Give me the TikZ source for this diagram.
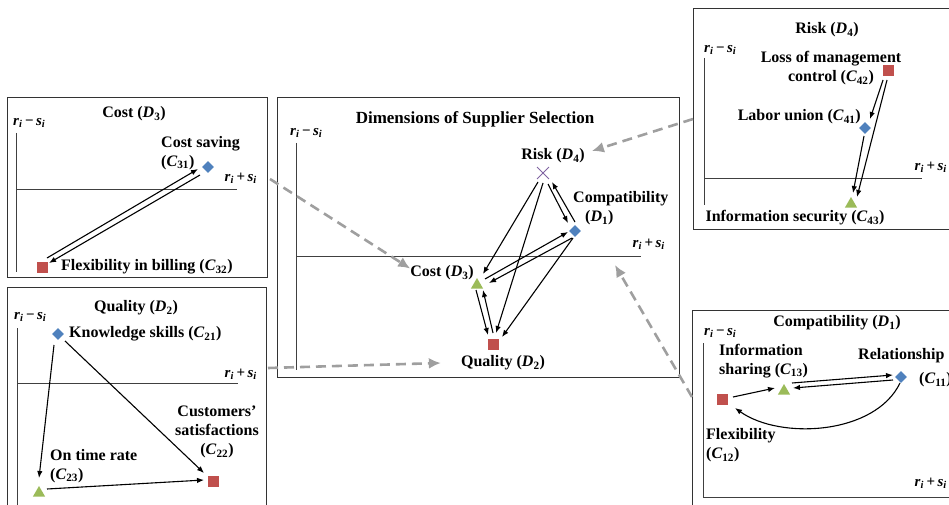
\documentclass[tikz,border=0pt]{standalone}
\usepackage{fontspec}
\setmainfont{Liberation Serif}
\usetikzlibrary{shapes.geometric}
\usetikzlibrary{shapes.misc}
\usetikzlibrary{arrows.meta}
\usetikzlibrary{positioning}
\definecolor{mkred}{HTML}{C0504D}
\definecolor{mkblue}{HTML}{4F81BD}
\definecolor{mkgreen}{HTML}{9BBB59}
\definecolor{mkpurple}{HTML}{8064A2}
\newcommand{\crit}[1]{(\textit{C}\textsubscript{#1})}
\newcommand{\dimn}[1]{(\textit{D}\textsubscript{#1})}
\newcommand{\rminus}{\textit{r}\textsubscript{\textit{i}}\,−\,\textit{s}\textsubscript{\textit{i}}}
\newcommand{\rplus}{\textit{r}\textsubscript{\textit{i}}\,+\,\textit{s}\textsubscript{\textit{i}}}
\tikzset{
    panel/.style = {draw=black!80, line width=1pt, inner sep=0, anchor=north west},
    axis/.style = {-, line width=0.9pt, black!75},
    lbl/.style = {inner sep=1pt, font=\bfseries\fontsize{16}{19}\selectfont, align=center},
    ttl/.style = {inner sep=1pt, font=\bfseries\fontsize{17}{19}\selectfont},
    axlbl/.style = {inner sep=1pt, font=\bfseries\fontsize{15}{17}\selectfont},
    sqr/.style = {rectangle, fill=mkred, minimum size=11pt, inner sep=0},
    dia/.style = {diamond, fill=mkblue, minimum size=12pt, inner sep=0},
    tri/.style = {regular polygon, regular polygon sides=3, fill=mkgreen, minimum size=14pt, inner sep=0},
    crs/.style = {cross out, draw=mkpurple, minimum size=11pt, inner sep=0, line width=0.9pt},
    arr/.style = {-{Latex[length=7pt,width=5.5pt]}, line width=1.1pt, black}, % relation
    link/.style = {-{Latex[length=12pt,width=11pt]}, line width=2.6pt, gray!75, dash pattern=on 10pt off 6pt}, % zoom
}

\begin{document}
\begin{tikzpicture}[x=1pt,y=-1pt]
\clip (0,0) rectangle (949,505);
%
% panels
\node[panel, minimum width=260, minimum height=180] at (7,97) (pcost) {};
\node[panel, minimum width=259, minimum height=230] at (7,287) (pqual) {};
\node[panel, minimum width=402, minimum height=280] at (277,97) (pdim) {};
\node[panel, minimum width=265, minimum height=221] at (693,8) (prisk) {};
\node[panel, minimum width=266, minimum height=210] at (692,310) (pcomp) {};
%
% axes
\draw[axis] (16,133) -- (16,272);
\draw[axis] (16,189) -- (237,189);
\draw[axis] (17,328) -- (17,510);
\draw[axis] (17,383) -- (238,383);
\draw[axis] (296,143) -- (296,370);
\draw[axis] (296,256) -- (641,256);
\draw[axis] (704,58) -- (704,205);
\draw[axis] (704,178) -- (922,178);
\draw[axis] (703,343) -- (703,497) -- (960,497);
%
\node[axlbl, anchor=west] at (12,123) (ycost) {\rminus};
\node[axlbl, anchor=east] at (258,178) (xcost) {\rplus};
\node[axlbl, anchor=west] at (13,317) (yqual) {\rminus};
\node[axlbl, anchor=east] at (258,374) (xqual) {\rplus};
\node[axlbl, anchor=west] at (289,133) (ydim) {\rminus};
\node[axlbl, anchor=east] at (666,244) (xdim) {\rplus};
\node[axlbl, anchor=west] at (703,50) (yrisk) {\rminus};
\node[axlbl, anchor=east] at (948,167) (xrisk) {\rplus};
\node[axlbl, anchor=west] at (703,333) (ycomp) {\rminus};
\node[axlbl, anchor=east] at (948,483) (xcomp) {\rplus};
%
% titles
\node[lbl] at (134,114) (tcost) {Cost \dimn{3}};
\node[lbl] at (136,308) (tqual) {Quality \dimn{2}};
\node[ttl] at (475,119) (tdim) {Dimensions of Supplier Selection};
\node[lbl] at (827,30) (trisk) {Risk \dimn{4}};
\node[lbl] at (837,323) (tcomp) {Compatibility \dimn{1}};
%
% cost
\node[dia] at (208,167) (c31) {};
\node[sqr] at (42,267) (c32) {};
\node[lbl, anchor=west, align=left] at (160,153) (lc31) {Cost saving\\\crit{31}};
\node[lbl, anchor=west] at (60,267) (lc32) {Flexibility in billing \crit{32}};
\draw[arr] ([shift={(5,-9)}]c32.center) -- ([shift={(-10,2)}]c31.center);
\draw[arr] ([shift={(-8,8)}]c31.center) -- ([shift={(7,-4)}]c32.center);
%
% quality
\node[dia] at (58,334) (c21) {};
\node[sqr] at (213,481) (c22) {};
\node[tri] at (39,493) (c23) {};
\node[lbl, anchor=west] at (68,334) (lc21) {Knowledge skills \crit{21}};
\node[lbl] at (217,432) (lc22) {Customers’\\satisfactions\\\crit{22}};
\node[lbl, anchor=west, align=left] at (49,466) (lc23) {On time rate\\\crit{23}};
\draw[arr] ([shift={(-4,11)}]c21.center) -- ([shift={(0,-15)}]c23.center);
\draw[arr] ([shift={(7,7)}]c21.center) -- ([shift={(-9,-8)}]c22.center);
\draw[arr] ([shift={(8,-4)}]c23.center) -- ([shift={(-9,-1)}]c22.center);
%
% dimensions
\node[crs] at (543,173) (d4) {};
\node[dia] at (575,231) (d1) {};
\node[tri] at (477,285) (d3) {};
\node[sqr] at (493,344) (d2) {};
\node[lbl] at (553,156) (ld4) {Risk \dimn{4}};
\node[lbl, anchor=west, align=left] at (572,208.5) (ld1) {Compatibility\\\hspace*{12pt}\dimn{1}};
\node[lbl, anchor=east] at (475,273) (ld3) {Cost \dimn{3}};
\node[lbl] at (503,363) (ld2) {Quality \dimn{2}};
\draw[arr] ([shift={(-5,9)}]d4.center) -- ([shift={(6,-11)}]d3.center);
\draw[arr] ([shift={(0,10)}]d4.center) -- ([shift={(3,-11)}]d2.center);
\draw[arr] ([shift={(5,11)}]d4.center) -- ([shift={(-7,-8)}]d1.center);
\draw[arr] ([shift={(0,-9)}]d1.center) -- ([shift={(9,9)}]d4.center);
\draw[arr] ([shift={(8,-6)}]d3.center) -- ([shift={(-7,1)}]d1.center);
\draw[arr] ([shift={(-3,7)}]d1.center) -- ([shift={(12,-2)}]d3.center);
\draw[arr] ([shift={(-2,7)}]d1.center) -- ([shift={(9,-7)}]d2.center);
\draw[arr] ([shift={(-1,5)}]d3.center) -- ([shift={(-5,-9)}]d2.center);
\draw[arr] ([shift={(0,-11)}]d2.center) -- ([shift={(6,5)}]d3.center);
%
% risk
\node[sqr] at (888,71) (c42) {};
\node[dia] at (865,128) (c41) {};
\node[tri] at (851,204) (c43) {};
\node[lbl] at (831,68.5) (lc42) {Loss of management\\control \crit{42}};
\node[lbl, anchor=east] at (862,117) (lc41) {Labor union \crit{41}};
\node[lbl] at (795,218) (lc43) {Information security \crit{43}};
\draw[arr] ([shift={(-5,9)}]c42.center) -- ([shift={(5,-9)}]c41.center);
\draw[arr] ([shift={(-1,9)}]c42.center) -- ([shift={(6,-7)}]c43.center);
\draw[arr] ([shift={(-1,8)}]c41.center) -- ([shift={(2,-11)}]c43.center);
%
% compatibility
\node[dia] at (901,377) (c11) {};
\node[sqr] at (722,399) (c12) {};
\node[tri] at (784,391) (c13) {};
\node[lbl, anchor=west] at (857,356) (lc11) {Relationship};
\node[lbl, anchor=west] at (918,380) (lc11b) {\crit{11}};
\node[lbl, anchor=west, align=left] at (705,445.5) (lc12) {Flexibility\\\crit{12}};
\node[lbl, anchor=west, align=left] at (718,361) (lc13) {Information\\sharing \crit{13}};
\draw[arr] ([shift={(11,-2)}]c12.center) -- ([shift={(-9,-3)}]c13.center);
\draw[arr] ([shift={(8,-8)}]c13.center) -- ([shift={(-8,-2)}]c11.center);
\draw[arr] ([shift={(-8,3)}]c11.center) -- ([shift={(9,-3)}]c13.center);
\draw[arr] ([shift={(-1,6)}]c11.center) .. controls +(-25,52) and +(45,32) .. ([shift={(13,9)}]c12.center);
%
% zoom links
\coordinate (fcost) at (270,179);
\coordinate (fqual) at (268,368);
\coordinate (fcomp) at (692,397);
\coordinate (tcomp) at (615,265);
\draw[link] (fcost) -- ([shift={(1,4)}]ld3.north west);
\draw[link] (fqual) -- ([xshift=-19]ld2.west);
\draw[link] (prisk.west) -- ([shift={(6,-5)}]ld4.east);
\draw[link] (fcomp) -- (tcomp);

\path[use as bounding box] (0,0) rectangle (949,505);

\end{tikzpicture}
\end{document}
